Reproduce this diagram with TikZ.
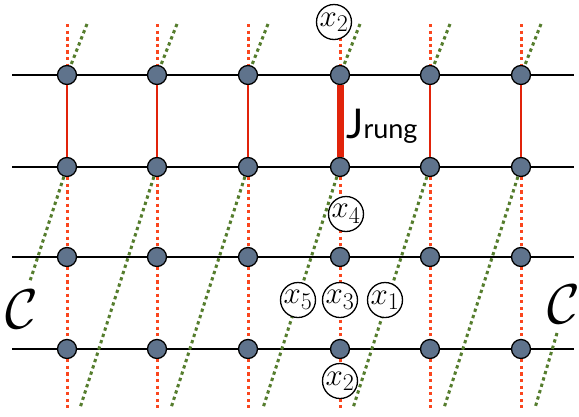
\RequirePackage{fix-cm}
\documentclass[tikz,border=0pt]{standalone}
\usepackage{fontspec}
\newfontfamily\rungfont{Lato}
\newcommand\xsite[1]{$x_{\mbox{\fontsize{24}{24}\selectfont#1}}$}
\definecolor{siteblue}{RGB}{95,115,140}
\definecolor{rungred}{RGB}{225,35,10}
\definecolor{chainred}{RGB}{250,70,30}
\definecolor{chaingreen}{RGB}{85,125,45}
\tikzset{
  site/.style={circle,draw,line width=1.3pt,fill=siteblue,minimum size=19pt,inner sep=0pt},
  leg/.style={line width=2.5pt},
  rung/.style={draw=rungred,line width=2.2pt},
  redchain/.style={draw=chainred,line width=3pt,dash pattern=on 3.3pt off 3.3pt},
  greenchain/.style={draw=chaingreen,line width=3pt,dash pattern=on 3.3pt off 3.3pt},
  xvar/.style={circle,draw,line width=1.3pt,fill=white,minimum size=35pt,inner sep=0pt,
    font=\fontsize{31}{33}\selectfont},
  contour/.style={inner sep=0pt,font=\fontsize{56}{60}\selectfont}
}

\begin{document}
\begin{tikzpicture}[x=1pt,y=-1pt]
  \useasboundingbox (0,0) rectangle (579,416);
  % sites of the ladder
  \foreach \c/\x in {1/67,2/157,3/248,4/340,5/430,6/521}{
    \foreach \r/\y in {1/75,2/167,3/257,4/349}
      \node[site] (s-\r-\c) at (\x,\y) {};
    \coordinate (top-\c) at (\x,24);
    \coordinate (bot-\c) at (\x,408);
    \coordinate (gtop-\c) at (\x+20,24);
    \coordinate (gbot-\c) at (\x-77,408);
  }
  % legs
  \foreach \r/\y in {1/75,2/167,3/257,4/349}{
    \coordinate (l-\r) at (12,\y);
    \coordinate (r-\r) at (574,\y);
    \draw[leg] (l-\r) -- (s-\r-1) -- (s-\r-2) -- (s-\r-3) -- (s-\r-4)
      -- (s-\r-5) -- (s-\r-6) -- (r-\r);
  }
  % rungs
  \foreach \c in {1,2,3,5,6}
    \draw[rung] (s-1-\c) -- (s-2-\c);
  \draw[rung,line width=7pt] (s-1-4) -- (s-2-4);
  % chains
  \foreach \c in {1,...,6}{
    \draw[redchain] (top-\c) -- (s-1-\c);
    \draw[redchain] (s-2-\c) -- (s-3-\c) -- (s-4-\c) -- (bot-\c);
    \draw[greenchain] (gtop-\c) -- (s-1-\c);
  }
  \foreach \c in {2,...,6}
    \draw[greenchain] (s-2-\c) -- (gbot-\c);
  \coordinate (gcut-l) at (30,281);
  \coordinate (gcut-r) at (557,333);
  \coordinate (gend-r) at (535,408);
  \draw[greenchain] (s-2-1) -- (gcut-l);
  \draw[greenchain] (gcut-r) -- (gend-r);
  % labels
  \node[xvar] (x2-top) at (334,22) {\xsite{2}};
  \node[xvar] (x4) at (346,214) {\xsite{4}};
  \node[xvar] (x5) at (298,300) {\xsite{5}};
  \node[xvar] (x3) at (340,300) {\xsite{3}};
  \node[xvar] (x1) at (385,300) {\xsite{1}};
  \node[xvar] (x2-bot) at (340,381) {\xsite{2}};
  \node[anchor=base west,inner sep=0pt] (jrung) at (346,138)
    {\rungfont\fontsize{41}{41}\selectfont J\fontsize{27}{27}\selectfont rung};
  \node[contour] (c-left) at (22,309) {$\mathcal{C}$};
  \node[contour] (c-right) at (564,304) {$\mathcal{C}$};
\end{tikzpicture}
\end{document}
